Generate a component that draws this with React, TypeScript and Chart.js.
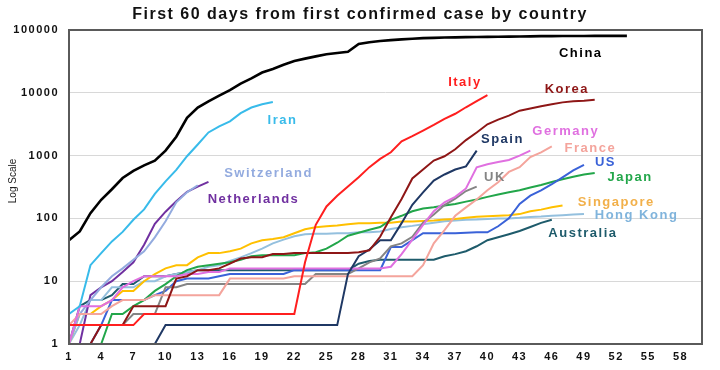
import React, { useEffect, useRef } from "react";
import { Chart, registerables } from "chart.js";

Chart.register(...registerables);

// ---------- data (cumulative confirmed cases, day 1 = first confirmed case) ----------
const xTickLabels = [1, 4, 7, 10, 13, 16, 19, 22, 25, 28, 31, 34, 37, 40, 43, 46, 49, 52, 55, 58];
const yTickLabels = [1, 10, 100, 1000, 10000, 100000];

const china = [45, 62, 121, 198, 291, 440, 571, 700, 830, 1200, 2000, 4000, 5800, 7300, 9000, 11000, 14000, 17000, 21000, 24000, 28000, 32000, 35000, 38000, 41000, 43000, 45000, 60000, 64000, 67000, 69000, 71000, 72500, 74200, 75000, 75900, 76300, 76900, 77200, 77700, 78100, 78500, 78800, 79300, 79800, 80000, 80150, 80270, 80400, 80550, 80650, 80700, 80750];
const italy = [2, 2, 2, 2, 2, 2, 2, 3, 3, 3, 3, 3, 3, 3, 3, 3, 3, 3, 3, 3, 3, 3, 20, 79, 155, 229, 322, 453, 655, 888, 1128, 1694, 2036, 2502, 3089, 3858, 4636, 5883, 7375, 9172];
const korea = [1, 1, 1, 2, 2, 2, 4, 4, 4, 4, 11, 12, 15, 15, 16, 19, 23, 24, 24, 27, 27, 28, 28, 28, 28, 28, 28, 29, 31, 51, 104, 204, 433, 602, 833, 977, 1261, 1766, 2337, 3150, 3736, 4335, 5186, 5621, 6088, 6593, 7041, 7314, 7478, 7755];
const iran = [3, 4, 18, 28, 43, 61, 95, 139, 245, 388, 593, 978, 1501, 2336, 2922, 3513, 4747, 5823, 6566, 7161];
const spain = [1, 1, 1, 1, 1, 1, 1, 1, 1, 2, 2, 2, 2, 2, 2, 2, 2, 2, 2, 2, 2, 2, 2, 2, 2, 2, 13, 25, 32, 45, 45, 84, 165, 259, 400, 500, 600, 673, 1200];
const germany = [1, 4, 4, 4, 5, 8, 10, 12, 12, 12, 12, 13, 13, 14, 14, 16, 16, 16, 16, 16, 16, 16, 16, 16, 16, 16, 16, 16, 16, 16, 17, 27, 46, 79, 130, 180, 220, 300, 650, 730, 790, 850, 1000, 1200];
const france = [2, 3, 3, 3, 4, 5, 5, 5, 6, 6, 6, 6, 6, 6, 6, 11, 11, 11, 11, 11, 11, 12, 12, 12, 12, 12, 12, 12, 12, 12, 12, 12, 12, 18, 40, 65, 110, 150, 200, 280, 377, 550, 653, 949, 1126, 1400];
const uk = [2, 2, 2, 2, 2, 2, 3, 3, 3, 8, 8, 9, 9, 9, 9, 9, 9, 9, 9, 9, 9, 9, 9, 13, 13, 13, 13, 16, 20, 23, 36, 40, 51, 85, 115, 163, 206, 273, 321];
const us = [1, 1, 1, 2, 5, 5, 5, 5, 6, 7, 10, 11, 11, 11, 12, 13, 13, 13, 13, 13, 13, 15, 15, 15, 15, 15, 15, 15, 15, 15, 35, 35, 45, 58, 58, 58, 58, 59, 60, 60, 75, 100, 170, 230, 280, 350, 450, 580, 710];
const japan = [1, 1, 1, 1, 3, 3, 4, 5, 7, 9, 12, 15, 17, 18, 19, 20, 22, 25, 26, 26, 26, 26, 28, 29, 33, 41, 53, 59, 66, 73, 95, 110, 130, 144, 150, 160, 170, 185, 200, 220, 240, 260, 280, 310, 340, 380, 420, 460, 500, 530];
const singapore = [1, 3, 3, 4, 5, 7, 7, 10, 13, 16, 18, 18, 24, 28, 28, 30, 33, 40, 45, 47, 50, 58, 67, 72, 75, 77, 81, 84, 84, 85, 85, 89, 89, 91, 93, 96, 98, 102, 106, 108, 110, 112, 117, 130, 138, 150, 160];
const hongKong = [1, 2, 5, 5, 8, 8, 8, 10, 10, 12, 13, 14, 15, 17, 18, 21, 24, 28, 33, 40, 46, 52, 56, 57, 57, 58, 58, 60, 60, 62, 68, 72, 76, 81, 85, 90, 93, 95, 96, 98, 100, 100, 102, 105, 107, 110, 112, 115, 118];
const switzerland = [1, 3, 5, 8, 12, 16, 22, 30, 50, 90, 180, 260, 337];
const netherlands = [1, 1, 6, 8, 10, 14, 20, 38, 82, 128, 188, 265, 321, 382];
const australia = [1, 4, 5, 5, 6, 9, 9, 12, 12, 12, 13, 14, 15, 15, 15, 15, 15, 15, 15, 15, 15, 15, 15, 15, 15, 15, 15, 19, 21, 22, 22, 22, 22, 22, 22, 25, 27, 30, 36, 45, 50, 56, 63, 73, 85, 95];

// label anchors in data space (day, cases)
const countryNames = ["China", "Italy", "Korea", "Iran", "Spain", "Germany", "France", "UK", "US", "Japan", "Switzerland", "Netherlands", "Singapore", "Hong Kong", "Australia"];
const labelDays = [48.7, 37.9, 47.4, 20.9, 41.4, 47.3, 49.6, 40.7, 51.0, 53.3, 19.6, 18.2, 52.0, 53.9, 48.9];
const labelValues = [43000, 14900, 11500, 3690, 1840, 2460, 1320, 456, 791, 456, 528, 204, 182, 113, 58.6];

const seriesValues = [china, italy, korea, iran, spain, germany, france, uk, us, japan, switzerland, netherlands, singapore, hongKong, australia];
const lineColors = ["#000000", "#FF1F1F", "#8E1616", "#38BBEA", "#1F3864", "#E070E0", "#F4A49C", "#848484", "#3A62D8", "#22A64A", "#93ABDF", "#7030A0", "#FFC000", "#94C0DE", "#1E5B6B"];
const labelColors = ["#000000", "#FF1F1F", "#8E1616", "#38BBEA", "#1F3864", "#E070E0", "#F4A49C", "#848484", "#3A62D8", "#22A64A", "#93ABDF", "#7030A0", "#F2B04A", "#80B4DC", "#1E5B6B"];

const titleText = "First 60 days from first confirmed case by country";
const yAxisTitle = "Log Scale";

const FONT = "'Liberation Sans', Arial, sans-serif";

export default function App() {
  const ref = useRef<HTMLCanvasElement>(null);

  useEffect(() => {
    const canvas = ref.current;
    if (!canvas) return;

    const datasets = seriesValues.map((vals, k) => ({
      label: countryNames[k],
      data: vals.map((v, i) => ({ x: i + 1, y: v })),
      borderColor: lineColors[k],
      backgroundColor: lineColors[k],
      borderWidth: k === 0 ? 2.6 : 2,
      pointRadius: 0,
      tension: 0,
      fill: false,
    }));

    const textPlugin = {
      id: "texts",
      beforeDraw(chart: any) {
        chart.ctx.letterSpacing = "1.5px";
      },
      afterDatasetsDraw(chart: any) {
        const { ctx, chartArea, scales } = chart;
        ctx.save();
        ctx.letterSpacing = "0px";
        ctx.strokeStyle = "#5a5a5a";
        ctx.lineWidth = 2;
        ctx.strokeRect(chartArea.left, chartArea.top, chartArea.right - chartArea.left, chartArea.bottom - chartArea.top);
        ctx.font = `bold 13px ${FONT}`;
        ctx.letterSpacing = "1.5px";
        ctx.textAlign = "center";
        ctx.textBaseline = "middle";
        countryNames.forEach((name, k) => {
          const x = scales.x.getPixelForValue(labelDays[k]);
          const y = scales.y.getPixelForValue(labelValues[k]);
          ctx.fillStyle = labelColors[k];
          ctx.fillText(name, x, y);
        });
        ctx.restore();
      },
      afterDraw(chart: any) {
        const { ctx } = chart;
        ctx.save();
        ctx.font = `bold 16px ${FONT}`;
        ctx.letterSpacing = "1.5px";
        ctx.fillStyle = "#111";
        ctx.textAlign = "center";
        ctx.textBaseline = "middle";
        ctx.fillText(titleText, chart.width / 2, 15);
        ctx.letterSpacing = "0px";
        ctx.font = `10px ${FONT}`;
        ctx.fillStyle = "#222";
        ctx.translate(13, (chart.chartArea.top + chart.chartArea.bottom) / 2 - 6);
        ctx.rotate(-Math.PI / 2);
        ctx.fillText(yAxisTitle, 0, 0);
        ctx.restore();
      },
    };

    const chart = new Chart(canvas, {
      type: "line",
      data: { datasets },
      options: {
        animation: false,
        responsive: true,
        maintainAspectRatio: false,
        layout: { padding: { top: 30, right: 18, bottom: 0, left: 0 } },
        plugins: { legend: { display: false }, title: { display: false }, tooltip: { enabled: false } },
        scales: {
          x: {
            type: "linear",
            min: 1,
            max: 60,
            afterBuildTicks: (scale: any) => {
              scale.ticks = xTickLabels.map((v) => ({ value: v }));
            },
            afterFit: (scale: any) => {
              scale.height = 26;
            },
            grid: { display: false, drawTicks: false },
            border: { display: false },
            ticks: {
              autoSkip: false,
              maxRotation: 0,
              padding: 6,
              color: "#111",
              font: { family: FONT, size: 11, weight: "bold" },
              callback: (v: any) => String(v),
            },
          },
          y: {
            type: "logarithmic",
            min: 1,
            max: 100000,
            afterBuildTicks: (scale: any) => {
              scale.ticks = yTickLabels.map((v) => ({ value: v }));
            },
            afterFit: (scale: any) => {
              scale.width = 69;
            },
            grid: { color: "#d8d8d8", lineWidth: 1, drawTicks: false },
            border: { display: false },
            ticks: {
              padding: 10,
              color: "#111",
              font: { family: FONT, size: 11, weight: "bold" },
              callback: (v: any) => String(v),
            },
          },
        },
      } as any,
      plugins: [textPlugin],
    });

    return () => chart.destroy();
  }, []);

  return (
    <div style={{ position: "absolute", left: 0, top: 0, width: 720, height: 370, background: "#fff" }}>
      <canvas ref={ref} />
    </div>
  );
}
